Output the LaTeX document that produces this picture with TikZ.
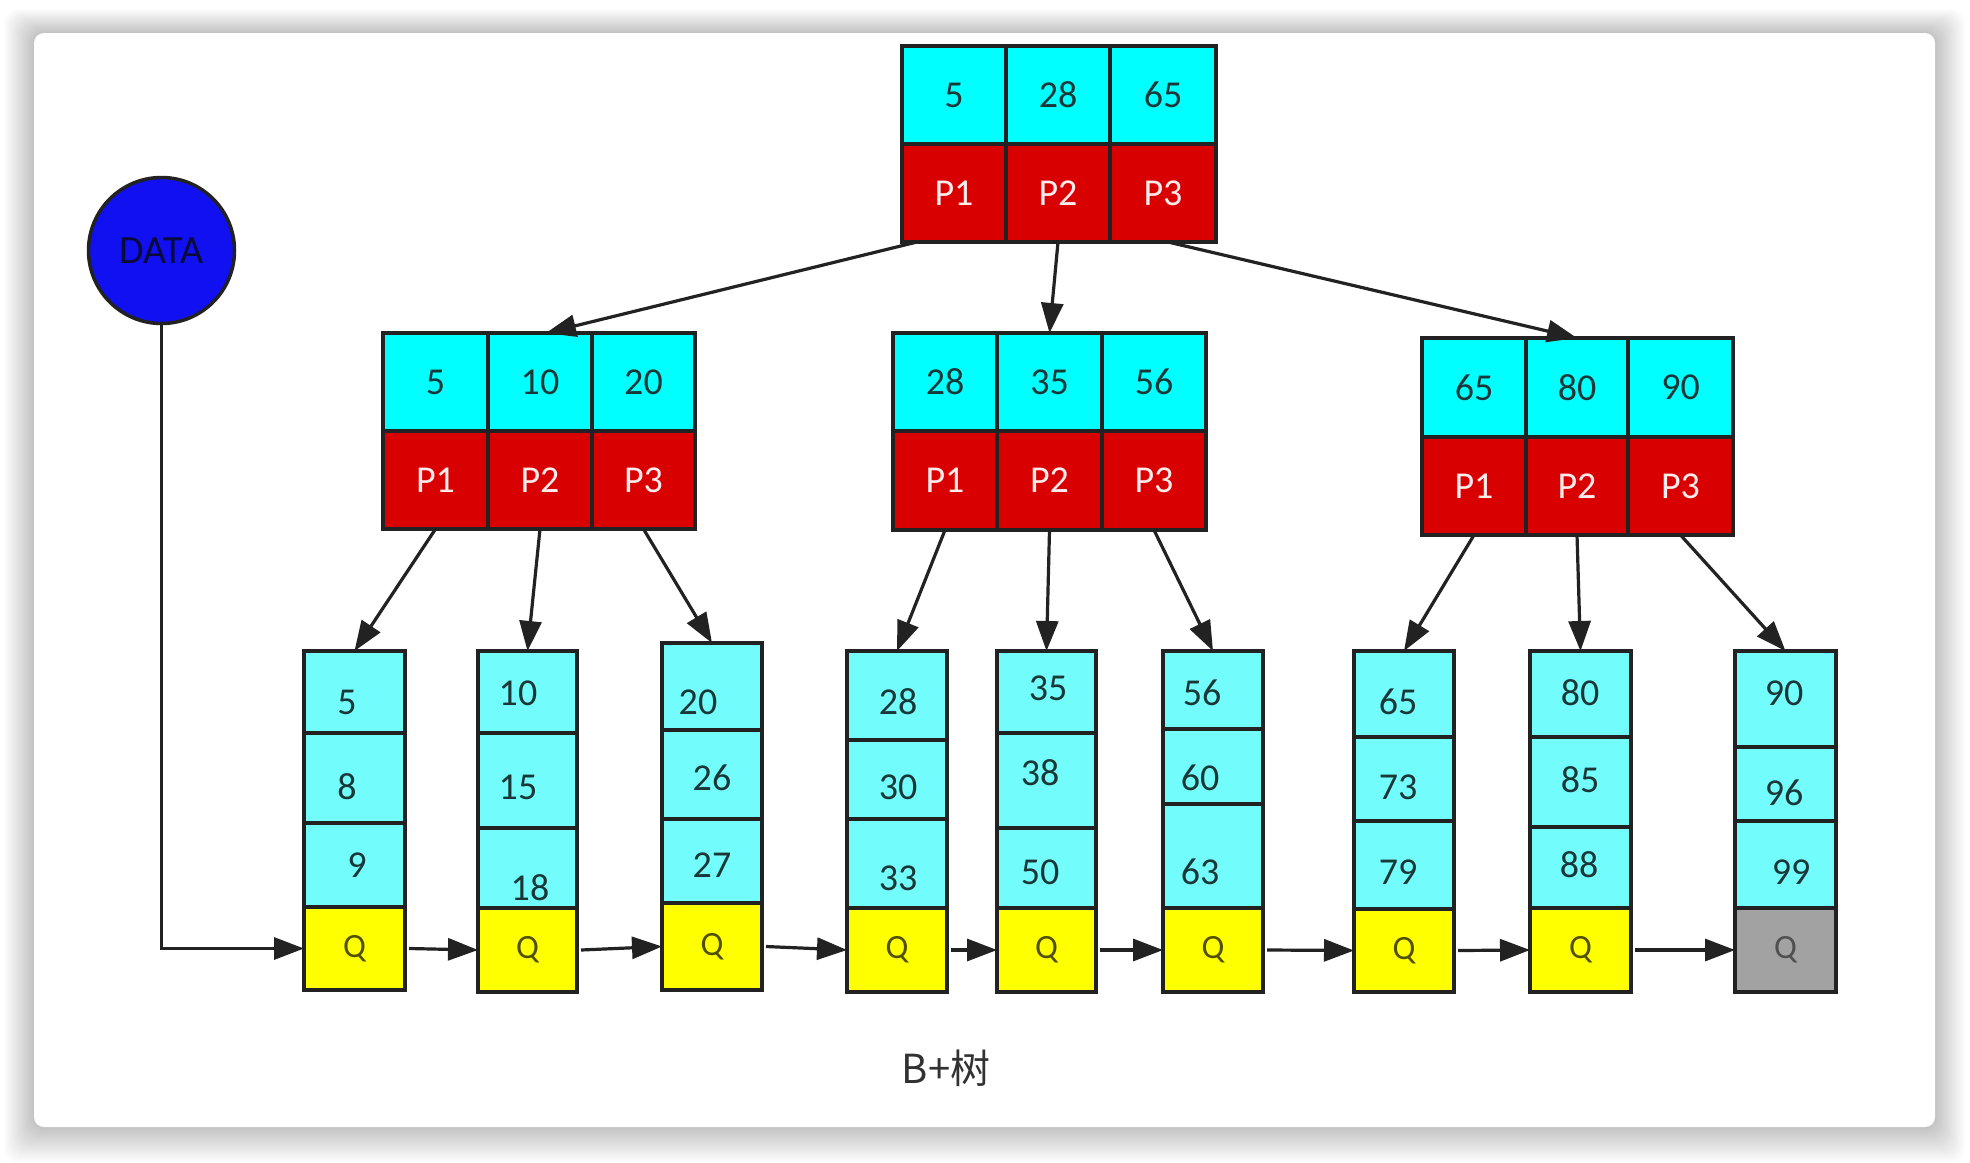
\documentclass[tikz,border=0pt]{standalone}
\usepackage{fontspec}
\setmainfont{Carlito}
\newfontfamily\cjk{Noto Sans CJK SC}
\usetikzlibrary{fit,arrows.meta,calc}
\definecolor{cyanI}{RGB}{0,255,255}
\definecolor{cyanL}{RGB}{115,252,252}
\definecolor{redP}{RGB}{216,0,0}
\definecolor{yelQ}{RGB}{255,255,0}
\definecolor{grayQ}{RGB}{162,162,162}
\definecolor{edge}{RGB}{34,34,34}
\definecolor{numtxt}{RGB}{25,55,55}
\definecolor{ptxt}{RGB}{255,235,235}
\definecolor{qtxt}{RGB}{80,80,0}
\definecolor{qgtxt}{RGB}{80,80,80}
\definecolor{datablue}{RGB}{16,16,240}
\definecolor{datatxt}{RGB}{10,10,60}
\definecolor{capt}{RGB}{50,50,50}
\tikzset{
  cellbase/.style={draw=edge, line width=3.5pt, inner sep=0pt, outer sep=0pt},
  keycell/.style={cellbase, fill=cyanI},
  ptrcell/.style={cellbase, fill=redP},
  leafcell/.style={cellbase, fill=cyanL},
  qcell/.style={cellbase},
  numtext/.style={font=\fontsize{38}{40}\selectfont, text=numtxt, inner sep=0pt},
  ptext/.style={font=\fontsize{38}{40}\selectfont, text=ptxt, inner sep=0pt},
  qtext/.style={font=\fontsize{34}{36}\selectfont, inner sep=0pt},
  conn/.style={draw=edge, line width=3.2pt, -{Triangle[length=30pt,width=22pt]}},
}
\newcommand\inode[8]{%
  \node[keycell, fit={(#2,#6)(#3,#7)}] (#1k1) {};
  \node[keycell, fit={(#3,#6)(#4,#7)}] (#1k2) {};
  \node[keycell, fit={(#4,#6)(#5,#7)}] (#1k3) {};
  \node[ptrcell, fit={(#2,#7)(#3,#8)}] (#1p1) {};
  \node[ptrcell, fit={(#3,#7)(#4,#8)}] (#1p2) {};
  \node[ptrcell, fit={(#4,#7)(#5,#8)}] (#1p3) {};
  \node[ptext] (#1t1) at (#1p1) {P1};
  \node[ptext] (#1t2) at (#1p2) {P2};
  \node[ptext] (#1t3) at (#1p3) {P3};
}
\begin{document}
\begin{tikzpicture}[x=1pt,y=-1pt]
\useasboundingbox (0,0) rectangle (1970,1162);
\fill[white] (0,0) rectangle (1970,1162);
% card shadow
\foreach \i in {1,...,30}
  \fill[black, opacity=0.009, rounded corners=14pt] (34-\i,33-0.8*\i) rectangle (1935+\i,1127+1.2*\i);
\fill[white, rounded corners=10pt] (34,33) rectangle (1935,1127);

% internal nodes
\inode{r}{902}{1006}{1110}{1216}{46}{144}{242}
\inode{a}{383}{488}{592}{695}{333}{431}{529}
\inode{b}{893}{997}{1102}{1206}{333}{431}{530}
\inode{c}{1422}{1526}{1628}{1733}{338}{437}{535}
\node[numtext] (rn1) at (rk1) {5};
\node[numtext] (rn2) at (rk2) {28};
\node[numtext] (rn3) at (rk3) {65};
\node[numtext] (an1) at (ak1) {5};
\node[numtext] (an2) at (ak2) {10};
\node[numtext] (an3) at (ak3) {20};
\node[numtext] (bn1) at (bk1) {28};
\node[numtext] (bn2) at (bk2) {35};
\node[numtext] (bn3) at (bk3) {56};
\node[numtext] (cn1) at (ck1) {65};
\node[numtext] (cn2) at (ck2) {80};
\node[numtext] (cn3) at (ck3) {90};

% leaves
\foreach \n/\xa/\xb/\yt/\ya/\yb/\yq/\ybot/\qc/\qt in {
  1/304/405/651/733/823/907/990/yelQ/qtxt,
  2/478/577/651/733/828/908/992/yelQ/qtxt,
  3/662/762/643/730/819/903/990/yelQ/qtxt,
  4/847/947/651/740/819/908/992/yelQ/qtxt,
  5/997/1096/651/733/828/908/992/yelQ/qtxt,
  6/1163/1263/651/729/804/908/992/yelQ/qtxt,
  7/1354/1454/651/737/821/909/992/yelQ/qtxt,
  8/1530/1631/651/737/827/908/992/yelQ/qtxt,
  9/1735/1836/651/747/821/908/992/grayQ/qgtxt}{
  \node[leafcell, fit={(\xa,\yt)(\xb,\ya)}] (l\n a) {};
  \node[leafcell, fit={(\xa,\ya)(\xb,\yb)}] (l\n b) {};
  \node[leafcell, fit={(\xa,\yb)(\xb,\yq)}] (l\n c) {};
  \node[qcell, fill=\qc, fit={(\xa,\yq)(\xb,\ybot)}] (q\n) {};
  \node[qtext, text=\qt] (qt\n) at (q\n) {Q};
}
\foreach \t/\x/\y in {5/347/702, 8/347/787, 9/357/865, 10/518/693, 15/518/787, 18/530/888,
  20/698/702, 26/712/778, 27/712/865, 28/898/702, 30/898/787, 33/898/878,
  35/1048/688, 38/1040/773, 50/1040/872, 56/1202/693, 60/1200/778, 63/1200/872,
  65/1398/702, 73/1398/787, 79/1398/872, 80/1580/693, 85/1580/780, 88/1579/865,
  90/1784/693, 96/1784/793, 99/1791/872}
  \node[numtext] (lt\t) at (\x,\y) {\t};

% tree connectors
\draw[conn] ([xshift=-37pt]rp1.south) -- ([xshift=6pt]ak2.north);
\draw[conn] (rp2.south) -- (bk2.north);
\draw[conn] ([xshift=5pt]rp3.south) -- (ck2.north);
\draw[conn] (ap1.south) -- (l1a.north);
\draw[conn] (ap2.south) -- (l2a.north);
\draw[conn] (ap3.south) -- (l3a.north);
\draw[conn] (bp1.south) -- (l4a.north);
\draw[conn] (bp2.south) -- (l5a.north);
\draw[conn] (bp3.south) -- (l6a.north);
\draw[conn] (cp1.south) -- (l7a.north);
\draw[conn] (cp2.south) -- (l8a.north);
\draw[conn] (cp3.south) -- (l9a.north);

% leaf chain
\foreach \i/\j in {1/2,2/3,3/4,4/5,5/6,6/7,7/8,8/9}
  \draw[conn] ([xshift=4pt]q\i.east) -- (q\j.west);

% DATA
\node[circle, draw=edge, line width=3.5pt, fill=datablue, minimum size=146pt, inner sep=0pt,
  font=\fontsize{40}{42}\selectfont, text=datatxt] (data) at (161.5,250.5) {DATA};
\draw[conn] (data.south) |- (q1.west);

% caption
\node[font=\cjk\fontsize{40}{42}\selectfont, text=capt, inner sep=0pt] (cap) at (946,1068) {B+树};
\end{tikzpicture}
\end{document}
